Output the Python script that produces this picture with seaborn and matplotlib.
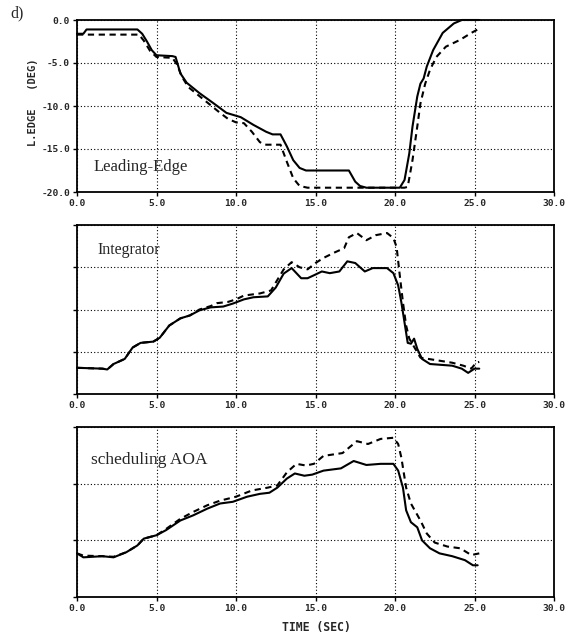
import numpy as np
import pandas as pd
import matplotlib
matplotlib.use("Agg")
import matplotlib.pyplot as plt
import seaborn as sns

# ---------------- data ----------------
t_le_solid = [0, 0.4, 0.6, 3.8, 4.1, 4.4, 4.7, 5.0, 6.0, 6.2, 6.5, 6.9, 7.7, 8.6, 9.4, 10.3, 11.1,
              11.9, 12.3, 12.8, 13.2, 13.6, 14.0, 14.4, 17.1, 17.5, 17.8, 18.2, 20.3, 20.6, 20.9,
              21.1, 21.4, 21.6, 21.8, 22.0, 22.4, 23.0, 23.7, 24.2, 25.3]
le_solid = [-1.6, -1.6, -1.1, -1.1, -1.6, -2.5, -3.5, -4.1, -4.2, -4.3, -6.2, -7.3, -8.5, -9.7,
            -10.8, -11.3, -12.2, -13.0, -13.3, -13.3, -14.7, -16.3, -17.2, -17.5, -17.5, -18.8,
            -19.3, -19.5, -19.5, -18.6, -15.5, -12.4, -8.9, -7.4, -6.8, -5.4, -3.5, -1.5, -0.4,
            0.0, 0.0]
t_le_dash = [0, 3.9, 4.2, 4.6, 5.0, 6.0, 6.3, 6.6, 7.0, 8.0, 9.0, 9.5, 10.0, 10.5, 11.0, 11.5,
             11.8, 12.8, 13.2, 13.6, 14.0, 14.5, 20.6, 20.8, 21.1, 21.4, 21.6, 21.9, 22.2, 22.6,
             23.2, 24.1, 24.8, 25.3]
le_dash = [-1.7, -1.7, -2.4, -3.6, -4.3, -4.4, -5.2, -6.6, -7.8, -9.3, -10.8, -11.5, -11.9,
           -12.0, -13.0, -14.2, -14.5, -14.5, -16.5, -18.4, -19.3, -19.5, -19.5, -19.4, -16.3,
           -12.4, -9.7, -7.4, -5.8, -4.3, -3.1, -2.3, -1.5, -1.0]

t_int_solid = [0, 1.6, 1.9, 2.3, 3.0, 3.5, 4.0, 4.8, 5.2, 5.8, 6.5, 7.1, 7.7, 8.4, 9.2, 9.8,
               10.5, 11.1, 12.0, 12.5, 13.0, 13.5, 14.1, 14.5, 14.9, 15.4, 15.9, 16.5, 17.0,
               17.5, 18.1, 18.6, 19.5, 19.9, 20.2, 20.4, 20.6, 20.8, 21.0, 21.2, 21.4, 21.7,
               22.2, 23.6, 24.2, 24.6, 25.0, 25.3]
int_solid = [0.62, 0.6, 0.58, 0.71, 0.83, 1.1, 1.21, 1.24, 1.33, 1.62, 1.79, 1.86, 1.98, 2.05,
             2.07, 2.14, 2.24, 2.29, 2.31, 2.52, 2.85, 2.98, 2.74, 2.74, 2.81, 2.90, 2.86, 2.9,
             3.14, 3.1, 2.9, 2.98, 2.98, 2.86, 2.57, 2.17, 1.69, 1.21, 1.19, 1.31, 1.07, 0.83,
             0.71, 0.67, 0.6, 0.5, 0.6, 0.6]
t_int_dash = [0, 1.6, 1.9, 2.3, 3.0, 3.5, 4.0, 4.8, 5.2, 5.8, 6.5, 7.1, 7.7, 8.4, 8.8, 9.5,
              10.0, 10.5, 11.5, 12.2, 12.6, 13.0, 13.5, 14.0, 14.5, 15.0, 15.5, 16.2, 16.8,
              17.1, 17.6, 18.2, 18.8, 19.5, 19.9, 20.1, 20.3, 20.5, 20.7, 20.9, 21.6, 22.1,
              23.6, 24.3, 24.8, 25.1, 25.3]
int_dash = [0.62, 0.6, 0.58, 0.71, 0.83, 1.1, 1.21, 1.24, 1.33, 1.62, 1.79, 1.86, 2.0, 2.08,
            2.15, 2.18, 2.24, 2.33, 2.38, 2.45, 2.7, 2.95, 3.12, 3.0, 2.95, 3.1, 3.22, 3.35,
            3.45, 3.71, 3.81, 3.64, 3.76, 3.81, 3.69, 3.48, 2.81, 2.17, 1.62, 1.31, 0.86, 0.83,
            0.74, 0.67, 0.6, 0.74, 0.76]

t_aoa_solid = [0, 0.4, 1.6, 2.3, 3.1, 3.8, 4.2, 5.0, 5.6, 6.5, 7.3, 8.2, 9.0, 9.8, 10.7, 11.5,
               12.1, 12.6, 13.2, 13.7, 14.3, 14.8, 15.5, 16.6, 17.4, 18.2, 19.1, 19.9, 20.2,
               20.5, 20.7, 21.0, 21.4, 21.7, 22.2, 22.8, 23.6, 24.4, 24.9, 25.2]
aoa_solid = [0.77, 0.70, 0.72, 0.70, 0.79, 0.91, 1.03, 1.09, 1.18, 1.35, 1.44, 1.56, 1.65, 1.68,
             1.77, 1.82, 1.84, 1.93, 2.09, 2.18, 2.14, 2.16, 2.23, 2.27, 2.40, 2.33, 2.35, 2.35,
             2.23, 1.93, 1.53, 1.32, 1.23, 1.0, 0.86, 0.77, 0.72, 0.65, 0.56, 0.56]
t_aoa_dash = [0, 0.4, 1.6, 2.3, 3.1, 3.8, 4.2, 5.0, 5.6, 6.5, 7.3, 8.2, 9.0, 10.0, 11.0, 12.0,
              12.6, 13.2, 13.8, 14.4, 14.9, 15.5, 16.7, 17.6, 18.3, 19.1, 19.9, 20.2, 20.4,
              20.7, 21.0, 21.6, 22.0, 22.5, 23.3, 24.1, 24.8, 25.3]
aoa_dash = [0.77, 0.73, 0.72, 0.71, 0.79, 0.91, 1.03, 1.09, 1.2, 1.38, 1.5, 1.62, 1.7, 1.77,
            1.88, 1.93, 1.97, 2.2, 2.35, 2.32, 2.35, 2.49, 2.54, 2.75, 2.70, 2.79, 2.81, 2.70,
            2.46, 1.93, 1.65, 1.35, 1.12, 0.96, 0.89, 0.86, 0.74, 0.77]

x_ticks = [0, 5, 10, 15, 20, 25, 30]
x_tick_labels = ["0.0", "5.0", "10.0", "15.0", "20.0", "25.0", "30.0"]
le_ticks = [0, -5, -10, -15, -20]
le_tick_labels = ["0.0", "-5.0", "-10.0", "-15.0", "-20.0"]
panel_titles = ["Leading-Edge", "Integrator", "scheduling AOA"]

# ---------------- figure ----------------
sns.set_style("white")
plt.rcParams["font.family"] = ["DejaVu Sans"]

fig = plt.figure(figsize=(5.71, 6.43), dpi=100)
W, H = 571.0, 643.0
def rect(l, t, r, b):
    return [l / W, 1 - b / H, (r - l) / W, (b - t) / H]

ax1 = fig.add_axes(rect(77, 20, 554, 192))
ax2 = fig.add_axes(rect(77, 225, 554, 394))
ax3 = fig.add_axes(rect(77, 427, 554, 597))

tick_font = dict(family="DejaVu Sans Mono", weight="bold", size=6.8)

def draw(ax, ts, vs, td, vd):
    df_s = pd.DataFrame({"t": ts, "v": vs})
    df_d = pd.DataFrame({"t": td, "v": vd})
    sns.lineplot(data=df_s, x="t", y="v", ax=ax, color="black", lw=1.5,
                 estimator=None, sort=False, clip_on=False)
    sns.lineplot(data=df_d, x="t", y="v", ax=ax, color="black", lw=1.5,
                 linestyle=(0, (3, 2.2)), estimator=None, sort=False, clip_on=False)

draw(ax1, t_le_solid, le_solid, t_le_dash, le_dash)
draw(ax2, t_int_solid, int_solid, t_int_dash, int_dash)
draw(ax3, t_aoa_solid, aoa_solid, t_aoa_dash, aoa_dash)

ax1.set_ylim(-20, 0)
ax1.set_yticks(le_ticks)
ax1.set_yticklabels(le_tick_labels, fontdict=tick_font)
ax2.set_ylim(0, 4)
ax2.set_yticks([0, 1, 2, 3, 4])
ax2.set_yticklabels([])
ax3.set_ylim(0, 3)
ax3.set_yticks([0, 1, 2, 3])
ax3.set_yticklabels([])

for ax, title in zip([ax1, ax2, ax3], panel_titles):
    ax.set_xlim(0, 30)
    ax.set_xticks(x_ticks)
    ax.set_xticklabels(x_tick_labels, fontdict=tick_font)
    ax.set_xlabel("")
    ax.set_ylabel("")
    ax.grid(True, color="black", linestyle=(0, (1, 2)), linewidth=0.8)
    for s in ax.spines.values():
        s.set_color("black")
        s.set_linewidth(1.3)
    ax.tick_params(axis="both", direction="out", length=3, width=1.0, color="black",
                   pad=2, bottom=True, left=True)
    ax.set_axisbelow(True)

ax1.text(0.035, 0.12, panel_titles[0], transform=ax1.transAxes, family="Liberation Serif",
         fontsize=12, ha="left", va="baseline")
ax2.text(0.042, 0.83, panel_titles[1], transform=ax2.transAxes, family="Liberation Serif",
         fontsize=11.5, ha="left", va="baseline")
ax3.text(0.03, 0.78, panel_titles[2], transform=ax3.transAxes, family="Liberation Serif",
         fontsize=12.5, ha="left", va="baseline")

fig.text(10 / W, 1 - 17 / H, "d)", family="Liberation Serif", fontsize=11.5,
         ha="left", va="baseline")
fig.text(33 / W, 1 - 102 / H, "L.EDGE   (DEG)", family="DejaVu Sans Mono", weight="bold",
         fontsize=7.5, rotation=90, ha="center", va="center")
fig.text(316 / W, 1 - 627 / H, "TIME (SEC)", family="DejaVu Sans Mono", weight="bold",
         fontsize=8.3, ha="center", va="center")

fig.savefig("out.png", dpi=100)
